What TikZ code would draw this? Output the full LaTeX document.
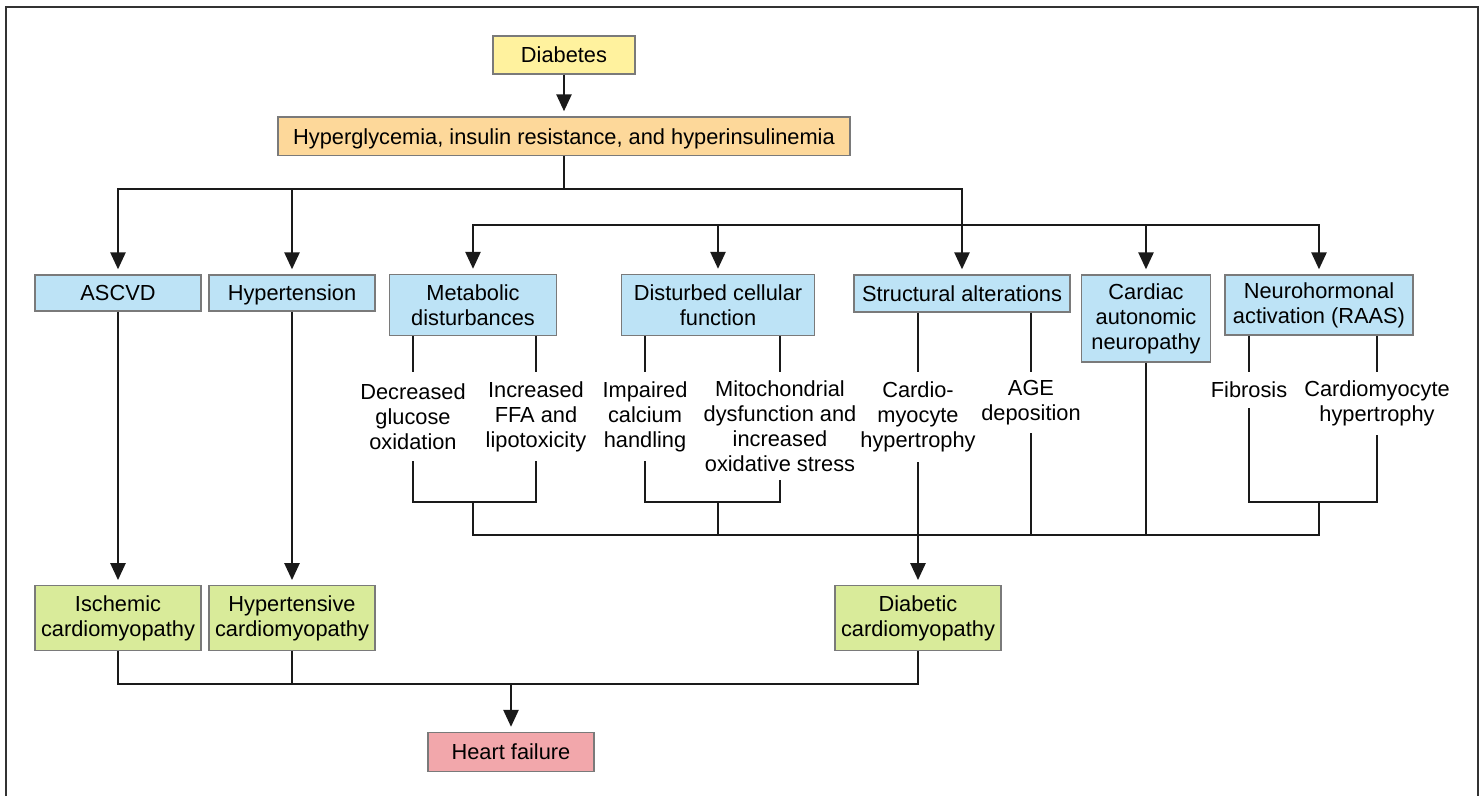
\documentclass[tikz,border=0pt]{standalone}
\usepackage{fontspec}
\setmainfont{Liberation Sans}
\usetikzlibrary{arrows.meta}
\definecolor{cyel}{HTML}{FFF29E}
\definecolor{corg}{HTML}{FDD89A}
\definecolor{cblu}{HTML}{BDE3F6}
\definecolor{cgrn}{HTML}{D9EB9A}
\definecolor{cpnk}{HTML}{F2A7AB}
\definecolor{cbord}{HTML}{7A7A7A}
\definecolor{cline}{HTML}{1A1A1A}
\begin{document}
\begin{tikzpicture}[x=1pt,y=-1pt,
  every node/.style={font=\fontsize{21.8}{25}\selectfont},
  bx/.style={draw=cbord, line width=1.3pt, inner sep=0pt, align=center},
  one/.style={text height=15.6pt, text depth=0pt},
  lab/.style={inner sep=0pt, align=center},
  ln/.style={draw=cline, line width=2.5pt},
  ar/.style={ln, -{Triangle[width=15pt,length=17pt]}, shorten >=5pt},
  frame/.style={draw=black!80, line width=2pt}]
\useasboundingbox (0,0) rectangle (1484,796);
\draw[frame] (6,796) -- (6,7) -- (1478,7) -- (1478,796);

% boxes
\node[bx, one, fill=cyel, minimum width=142pt, minimum height=38pt] (dia) at (564,55) {Diabetes};
\node[bx, one, fill=corg, minimum width=572pt, minimum height=38.7pt] (hyp) at (564,136.3) {Hyperglycemia, insulin resistance, and hyperinsulinemia};
\node[bx, one, fill=cblu, minimum width=166pt, minimum height=36pt] (asc) at (118,293) {ASCVD};
\node[bx, one, fill=cblu, minimum width=166pt, minimum height=36pt] (htn) at (292,293) {Hypertension};
\node[bx, fill=cblu, minimum width=167pt, minimum height=61pt] (met) at (473,305) {Metabolic\\disturbances};
\node[bx, fill=cblu, minimum width=193pt, minimum height=61pt] (dis) at (718,305) {Disturbed cellular\\function};
\node[bx, one, fill=cblu, minimum width=216pt, minimum height=37pt] (str) at (962,293.5) {Structural alterations};
\node[bx, fill=cblu, minimum width=129pt, minimum height=87pt] (cad) at (1146,318.5) {Cardiac\\autonomic\\neuropathy};
\node[bx, fill=cblu, minimum width=188pt, minimum height=60pt] (neu) at (1319,305) {Neurohormonal\\activation (RAAS)};

% sub labels
\node[lab, minimum height=89pt] (dec) at (413,416.5) {Decreased\\glucose\\oxidation};
\node[lab, minimum height=89pt] (inc) at (536,416.5) {Increased\\FFA and\\lipotoxicity};
\node[lab, minimum height=89pt] (imp) at (645,416.5) {Impaired\\calcium\\handling};
\node[lab, minimum height=108pt] (mit) at (780,426) {Mitochondrial\\dysfunction and\\increased\\oxidative stress};
\node[lab, minimum height=90pt] (car) at (918,417) {Cardio-\\myocyte\\hypertrophy};
\node[lab, minimum height=61pt] (age) at (1031,402.5) {AGE\\deposition};
\node[lab, one, minimum height=36pt] (fib) at (1249,390) {Fibrosis};
\node[lab, minimum height=63pt] (cmh) at (1377,403.5) {Cardiomyocyte\\hypertrophy};

% bottom boxes
\node[bx, fill=cgrn, minimum width=166pt, minimum height=64.5pt] (isc) at (118,618) {Ischemic\\cardiomyopathy};
\node[bx, fill=cgrn, minimum width=166pt, minimum height=64.5pt] (hcm) at (292,618) {Hypertensive\\cardiomyopathy};
\node[bx, fill=cgrn, minimum width=166pt, minimum height=64.5pt] (dcm) at (918,618) {Diabetic\\cardiomyopathy};
\node[bx, one, fill=cpnk, minimum width=166pt, minimum height=39pt] (hf) at (511,752) {Heart failure};

% coordinates
\coordinate (h1) at (564,189);
\coordinate (b2) at (962,225);
\coordinate (mj) at (473,502);
\coordinate (dj) at (718,502);
\coordinate (nj) at (1319,502);
\coordinate (mb) at (473,535);
\coordinate (nb) at (1319,535);
\coordinate (fb) at (511,684);

% top connectors
\draw[ar] (dia) -- (hyp);
\draw[ln] (hyp.south) -- (h1);
\draw[ar] (h1) -| (asc.north);
\draw[ar] (h1) -| (str.north);
\draw[ar] (htn.north |- h1) -- (htn.north);
\draw[ar] (b2) -| (met.north);
\draw[ar] (b2) -| (neu.north);
\draw[ar] (dis.north |- b2) -- (dis.north);
\draw[ar] (cad.north |- b2) -- (cad.north);

% box to labels
\draw[ln] (met.south -| dec.north) -- (dec.north);
\draw[ln] (met.south -| inc.north) -- (inc.north);
\draw[ln] (dis.south -| imp.north) -- (imp.north);
\draw[ln] (dis.south -| mit.north) -- (mit.north);
\draw[ln] (str.south -| car.north) -- (car.north);
\draw[ln] (str.south -| age.north) -- (age.north);
\draw[ln] (neu.south -| fib.north) -- (fib.north);
\draw[ln] (neu.south -| cmh.north) -- (cmh.north);

% brackets and bus
\draw[ln] (dec.south) |- (mj) -| (inc.south);
\draw[ln] (imp.south) |- (dj) -| (mit.south);
\draw[ln] (fib.south) |- (nj) -| (cmh.south);
\draw[ln] (mj) -- (mb) -- (nb) -- (nj);
\draw[ln] (dj) -- (dj |- mb);
\draw[ln] (age.south) -- (age.south |- mb);
\draw[ln] (cad.south) -- (cad.south |- mb);

% down arrows
\draw[ar] (asc) -- (isc);
\draw[ar] (htn) -- (hcm);
\draw[ar] (car.south) -- (dcm.north);

% bottom
\draw[ln] (isc.south) |- (fb) -| (dcm.south);
\draw[ln] (hcm.south) -- (hcm.south |- fb);
\draw[ar] (fb) -- (hf.north);
\end{tikzpicture}
\end{document}
